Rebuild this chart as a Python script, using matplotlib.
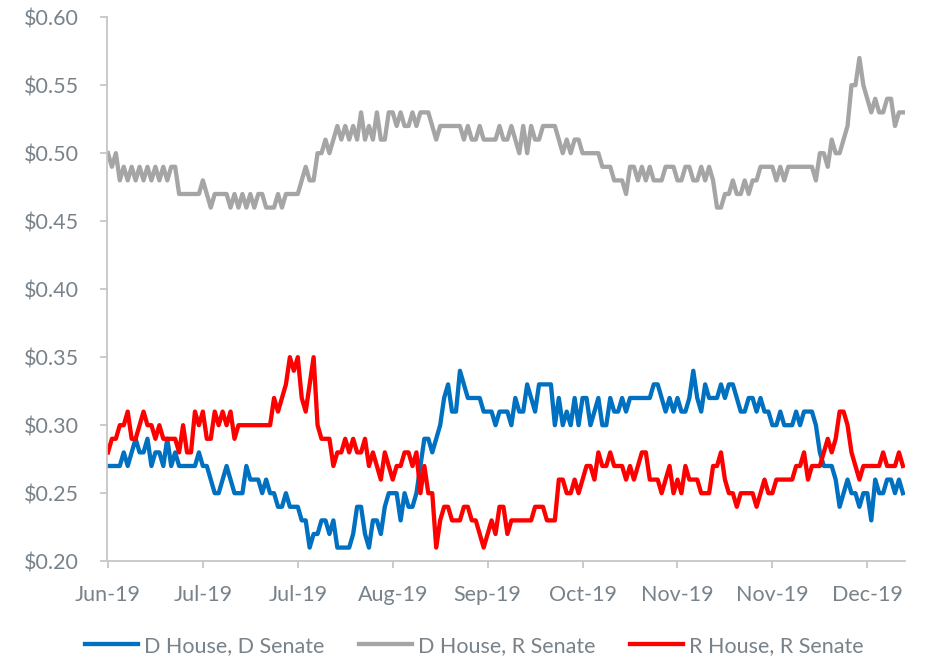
import matplotlib
matplotlib.use("Agg")
import matplotlib.pyplot as plt
import matplotlib.dates as mdates
import pandas as pd

plt.rcParams["font.family"] = ["Lato", "DejaVu Sans"]

# daily prices, 11 Jun 2019 onwards
START = "2019-06-11"

d_house_d_senate = [
    .27, .27, .27, .27, .28, .27, .28, .29, .28, .28,
    .29, .27, .28, .28, .27, .29, .27, .28, .27, .27,
    .27, .27, .27, .28, .27, .27, .26, .25, .25, .26,
    .27, .26, .25, .25, .25, .27, .26, .26, .26, .25,
    .26, .25, .25, .24, .24, .25, .24, .24, .24, .23,
    .23, .21, .22, .22, .23, .23, .22, .23, .21, .21,
    .21, .21, .22, .24, .24, .22, .21, .23, .23, .22,
    .24, .25, .25, .25, .23, .25, .24, .24, .25, .27,
    .29, .29, .28, .29, .30, .32, .33, .31, .31, .34,
    .33, .32, .32, .32, .32, .31, .31, .31, .30, .31,
    .31, .31, .30, .32, .31, .31, .33, .32, .31, .33,
    .33, .33, .33, .30, .32, .30, .31, .30, .32, .30,
    .32, .32, .30, .31, .32, .30, .30, .32, .31, .31,
    .32, .31, .32, .32, .32, .32, .32, .32, .33, .33,
    .32, .31, .32, .31, .32, .31, .31, .32, .34, .32,
    .31, .33, .32, .32, .32, .33, .32, .33, .33, .32,
    .31, .31, .32, .32, .31, .32, .31, .31, .30, .30,
    .31, .30, .30, .30, .31, .30, .31, .31, .31, .30,
    .28, .27, .27, .27, .26, .24, .25, .26, .25, .25,
    .24, .25, .25, .23, .26, .25, .25, .26, .26, .25,
    .26, .25,
]

d_house_r_senate = [
    .50, .49, .50, .48, .49, .48, .49, .48, .49, .48,
    .49, .48, .49, .48, .49, .48, .49, .49, .47, .47,
    .47, .47, .47, .47, .48, .47, .46, .47, .47, .47,
    .47, .46, .47, .46, .47, .46, .47, .46, .47, .47,
    .46, .46, .46, .47, .46, .47, .47, .47, .47, .48,
    .49, .48, .48, .50, .50, .51, .50, .51, .52, .51,
    .52, .51, .52, .51, .53, .51, .52, .51, .53, .51,
    .51, .53, .53, .52, .53, .52, .52, .53, .52, .53,
    .53, .53, .52, .51, .52, .52, .52, .52, .52, .52,
    .51, .52, .51, .51, .52, .51, .51, .51, .51, .52,
    .51, .51, .52, .51, .50, .52, .50, .52, .51, .51,
    .52, .52, .52, .52, .51, .50, .51, .50, .51, .51,
    .50, .50, .50, .50, .50, .49, .49, .49, .48, .48,
    .48, .47, .49, .49, .48, .49, .48, .49, .48, .48,
    .48, .49, .49, .49, .48, .48, .49, .49, .48, .48,
    .49, .48, .49, .48, .46, .46, .47, .47, .48, .47,
    .47, .48, .47, .48, .48, .49, .49, .49, .49, .48,
    .49, .48, .49, .49, .49, .49, .49, .49, .49, .48,
    .50, .50, .49, .51, .50, .50, .51, .52, .55, .55,
    .57, .55, .54, .53, .54, .53, .53, .54, .54, .52,
    .53, .53,
]

r_house_r_senate = [
    .28, .29, .29, .30, .30, .31, .29, .29, .30, .31,
    .30, .30, .29, .30, .29, .29, .29, .29, .28, .30,
    .28, .28, .31, .30, .31, .29, .29, .31, .30, .31,
    .30, .31, .29, .30, .30, .30, .30, .30, .30, .30,
    .30, .30, .32, .31, .32, .33, .35, .34, .35, .32,
    .31, .33, .35, .30, .29, .29, .29, .27, .28, .28,
    .29, .28, .29, .28, .28, .29, .27, .28, .27, .26,
    .28, .27, .26, .27, .27, .28, .28, .27, .28, .25,
    .27, .25, .25, .21, .23, .24, .24, .23, .23, .23,
    .24, .24, .23, .23, .22, .21, .22, .23, .22, .24,
    .24, .22, .23, .23, .23, .23, .23, .23, .24, .24,
    .24, .23, .23, .23, .26, .26, .25, .25, .26, .25,
    .26, .27, .27, .26, .28, .27, .27, .28, .27, .27,
    .27, .26, .27, .26, .27, .28, .28, .26, .26, .26,
    .25, .26, .27, .25, .26, .25, .27, .26, .26, .26,
    .25, .25, .25, .27, .27, .28, .26, .25, .25, .24,
    .25, .25, .25, .25, .24, .25, .26, .25, .25, .26,
    .26, .26, .26, .26, .27, .27, .28, .26, .27, .27,
    .27, .28, .29, .28, .29, .31, .31, .30, .28, .27,
    .26, .27, .27, .27, .27, .27, .28, .27, .27, .27,
    .28, .27,
]

series_names = ["D House, D Senate", "D House, R Senate", "R House, R Senate"]
series_colors = ["#0070C0", "#A5A5A5", "#FF0000"]
y_ticks = [0.20, 0.25, 0.30, 0.35, 0.40, 0.45, 0.50, 0.55, 0.60]
TICK_STEP = 24  # days between x labels

dates = pd.date_range(START, periods=len(d_house_d_senate), freq="D")

TEXT = "#78828a"
AXIS = "#c6c6c6"
FS = 15.5

fig = plt.figure(figsize=(9.30, 6.61), dpi=100)
ax = fig.add_axes([0.115, 0.151, 0.858, 0.823])

for vals, name, col in zip([d_house_d_senate, d_house_r_senate, r_house_r_senate],
                           series_names, series_colors):
    ax.plot(dates, vals, color=col, lw=3.1, label=name)

ax.set_ylim(0.20, 0.60)
ax.set_yticks(y_ticks)
ax.set_yticklabels([f"${v:.2f}" for v in y_ticks])
ax.set_xlim(dates[0] - pd.Timedelta(hours=6), dates[-1] + pd.Timedelta(hours=12))
ax.set_xticks(dates[::TICK_STEP])
ax.xaxis.set_major_formatter(mdates.DateFormatter("%b-%y"))

for side in ["top", "right"]:
    ax.spines[side].set_visible(False)
for side in ["left", "bottom"]:
    ax.spines[side].set_color(AXIS)
    ax.spines[side].set_linewidth(1.3)
ax.tick_params(colors=AXIS, labelcolor=TEXT, labelsize=FS, length=5, width=1.3)
ax.tick_params(axis="x", pad=12)
ax.tick_params(axis="y", pad=15)

fig.legend(loc="center", bbox_to_anchor=(474 / 930, 1 - 646 / 661), ncol=3,
           frameon=False, fontsize=FS, labelcolor=TEXT, handlelength=2.5,
           handletextpad=0.25, columnspacing=1.6)

fig.savefig("out.png", dpi=100)
